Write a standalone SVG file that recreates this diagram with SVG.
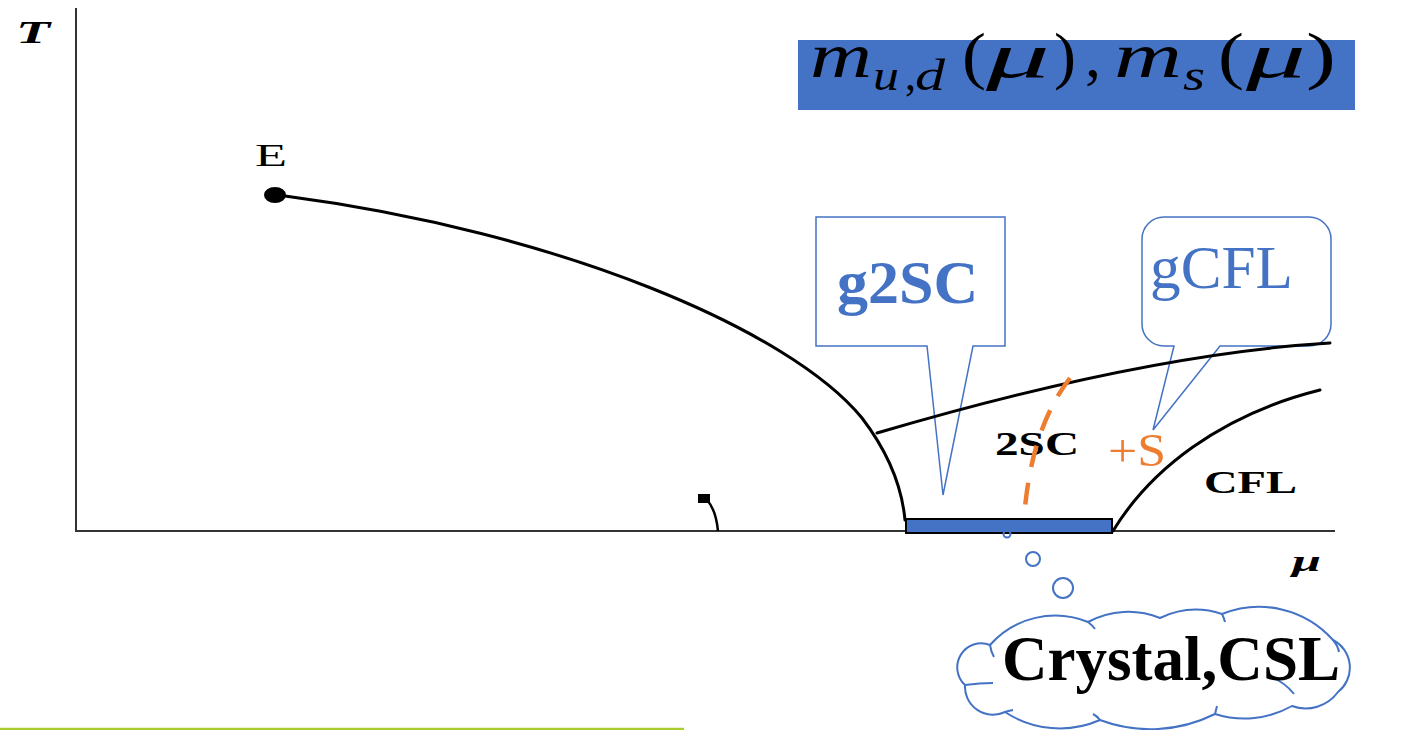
<svg xmlns="http://www.w3.org/2000/svg" width="1402" height="730" viewBox="0 0 1402 730">
<style>
text{font-family:"Liberation Serif","Times New Roman",serif;}
.ax{stroke:#333;stroke-width:2;fill:none;}
.crv{stroke:#000;stroke-width:3;fill:none;stroke-linecap:round;}
.call{fill:#fff;stroke:#4472C4;stroke-width:1.5;stroke-linejoin:miter;}
.cloud{fill:#fff;stroke:#4472C4;stroke-width:2;}
.frag{fill:none;stroke:#4472C4;stroke-width:2;}
.bub{fill:none;stroke:#4472C4;stroke-width:2;}
.big{font-size:64px;fill:#000;}
.sub{font-size:44px;fill:#000;font-style:italic;}
.it{font-style:italic;}
</style>
<rect width="1402" height="730" fill="#fff"/>

<g id="callout-g2SC">
<path class="call" d="M816,217 H1005 V346 H973 L943,495 L927,346 H816 Z"/>
<text x="837" y="303" font-size="62" font-weight="bold" fill="#4472C4">g2SC</text>
</g>
<g id="callout-gCFL">
<path class="call" d="M1164,217 H1309 A22 22 0 0 1 1331,239 V324 A22 22 0 0 1 1309,346 H1220 L1153,430 L1174,346 H1164 A22 22 0 0 1 1142,324 V239 A22 22 0 0 1 1164,217 Z"/>
<text x="1150" y="288" font-size="61" fill="#4472C4" textLength="143" lengthAdjust="spacingAndGlyphs">gCFL</text>
</g>

<g id="axes">
<line class="ax" x1="76" y1="8" x2="76" y2="532"/>
<line class="ax" x1="76" y1="531" x2="1335" y2="531"/>
<text x="16" y="43" font-size="32" font-weight="bold" font-style="italic" textLength="34" lengthAdjust="spacingAndGlyphs">T</text>
<text x="1292" y="571" font-size="30" font-weight="bold" font-style="italic" textLength="29" lengthAdjust="spacingAndGlyphs">μ</text>
</g>

<g id="phase-lines">
<ellipse cx="275" cy="195" rx="11" ry="8" fill="#000"/>
<path class="crv" d="M285,196 C560,232 790,330 862,418 C888,452 902,488 905,520"/>
<path class="crv" d="M877,433 Q1145,354 1330,343"/>
<path class="crv" d="M1113,531 C1150,470 1220,415 1320,390"/>
<rect x="698" y="494" width="12" height="9" fill="#000"/>
<path d="M707,500 Q716,510 718,531" stroke="#000" stroke-width="2.5" fill="none"/>
</g>

<g id="labels">
<text x="255" y="166" font-size="32" textLength="32" lengthAdjust="spacingAndGlyphs">E</text>
<text x="995" y="455" font-size="33" font-weight="bold" textLength="84" lengthAdjust="spacingAndGlyphs">2SC</text>
<text x="1204" y="493" font-size="32" font-weight="bold" textLength="93" lengthAdjust="spacingAndGlyphs">CFL</text>
<text x="1108" y="466" font-size="46" fill="#ED7D31" textLength="58" lengthAdjust="spacingAndGlyphs">+S</text>
</g>

<g id="g2SC-bar">
<rect x="906" y="519" width="206" height="14" fill="#4472C4" stroke="#000" stroke-width="2"/>
</g>

<g id="dashed-boundary">
<path d="M1070,378 Q1030,430 1024,520" fill="none" stroke="#ED7D31" stroke-width="4.5" stroke-dasharray="22 16"/>
</g>

<g id="title">
<rect x="798" y="40" width="557" height="70" fill="#4472C4"/>
<text class="big it" x="810" y="77" textLength="62" lengthAdjust="spacingAndGlyphs">m</text>
<text class="sub" x="873" y="90" textLength="26" lengthAdjust="spacingAndGlyphs">u</text>
<text class="sub" x="905" y="90" style="font-style:normal">,</text>
<text class="sub" x="915" y="90" textLength="30" lengthAdjust="spacingAndGlyphs">d</text>
<text class="big" x="962" y="77" textLength="24" lengthAdjust="spacingAndGlyphs">(</text>
<text class="big it" x="986" y="77" textLength="64" lengthAdjust="spacingAndGlyphs">μ</text>
<text class="big" x="1054" y="77" textLength="22" lengthAdjust="spacingAndGlyphs">)</text>
<text class="big" x="1085" y="77" textLength="16" lengthAdjust="spacingAndGlyphs">,</text>
<text class="big it" x="1114" y="77" textLength="68" lengthAdjust="spacingAndGlyphs">m</text>
<text class="sub" x="1183" y="90" textLength="22" lengthAdjust="spacingAndGlyphs">s</text>
<text class="big" x="1218" y="77" textLength="26" lengthAdjust="spacingAndGlyphs">(</text>
<text class="big it" x="1246" y="77" textLength="60" lengthAdjust="spacingAndGlyphs">μ</text>
<text class="big" x="1306" y="77" textLength="30" lengthAdjust="spacingAndGlyphs">)</text>
</g>

<g id="thought-cloud">
<circle class="bub" cx="1007" cy="534" r="3.5"/>
<circle class="bub" cx="1033" cy="559" r="7"/>
<circle class="bub" cx="1063" cy="588" r="10"/>
<path class="cloud" d="M965,685 A24 24 0 0 1 990,645 A87 87 0 0 1 1088,622 A85 85 0 0 1 1160,618 A83 83 0 0 1 1222,614 A99 99 0 0 1 1333,640 A31 31 0 0 1 1338,692 A40 40 0 0 1 1292,706 A97 97 0 0 1 1215,714 A144 144 0 0 1 1100,720 A100 100 0 0 1 1005,712 A28 28 0 0 1 965,685 Z"/>
<path class="frag" d="M990,645 Q991,652 994,657 M1088,622 Q1092,625 1095,629 M1222,614 Q1224,618 1225,622 M1333,640 Q1338,646 1339,652 M1267,675 Q1285,682 1294,694 M1215,714 Q1216,710 1217,706 M1100,720 Q1097,716 1093,714 M1005,712 Q1008,711 1013,710 M965,685 Q980,683 993,683"/>
<text x="1002" y="680" font-size="64" font-weight="bold" fill="#000" textLength="338" lengthAdjust="spacingAndGlyphs">Crystal,CSL</text>
</g>

<g id="footer-line">
<line x1="0" y1="729" x2="684" y2="729" stroke="#A9CC2E" stroke-width="2.5"/>
</g>
</svg>
